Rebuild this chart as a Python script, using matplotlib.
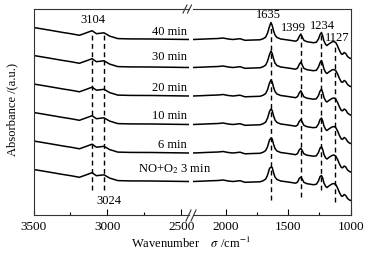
import numpy as np
import matplotlib
matplotlib.use("Agg")
import matplotlib.pyplot as plt
from matplotlib.lines import Line2D
from matplotlib.ticker import MultipleLocator

plt.rcParams['font.family'] = 'serif'
plt.rcParams['font.serif'] = ['Liberation Serif', 'DejaVu Serif']
plt.rcParams['mathtext.fontset'] = 'stix'

# Data (absorbance in arbitrary units)
labels = ['40 min', '30 min', '20 min', '10 min', '6 min', 'NO+O$_2$ 3 min']
offsets = [175.5, 147.5, 119, 90.5, 62, 33.5]

# left segment 3500-2450 cm-1
wn_left = [3500, 3450, 3390, 3300, 3240, 3190, 3150, 3104, 3075, 3045,
           3024, 2985, 2930, 2850, 2700, 2449]
abs_left = [12.0, 10.8, 9.3, 7.0, 5.6, 4.2, 6.3, 8.8, 5.8, 6.3,
            6.7, 3.4, 0.9, 0.6, 0.5, 0.0]

# right segment 2260-1000 cm-1
wn_right = [2262, 2200, 2126, 2060, 2022, 1980, 1942, 1900, 1886, 1846,
            1780, 1726, 1700, 1680, 1665, 1650, 1638, 1628, 1618, 1606,
            1590, 1560, 1530, 1486, 1440, 1425, 1412, 1399, 1388, 1375,
            1350, 1300, 1275, 1258, 1245, 1234, 1224, 1214, 1200, 1190,
            1175, 1150, 1135, 1120, 1105, 1090, 1075, 1065, 1052, 1040,
            1025, 1010, 1000]
abs_right = [0.0, 0.3, 0.7, 1.0, 1.5, 0.5, 0.0, 0.6, 0.8, -0.8,
             -0.5, -0.3, 0.8, 2.5, 6.5, 13.0, 16.0, 14.0, 9.0, 4.5,
             2.0, 0.5, 0.0, -0.8, -1.7, -0.5, 3.0, 5.0, 2.5, -0.8,
             -2.2, -3.2, -2.8, 0.5, 5.0, 6.5, 3.5, -1.5, -5.0, -6.0,
             -4.5, -2.5, -2.0, -3.0, -6.5, -11.0, -14.5, -14.8, -13.0, -14.0,
             -17.0, -18.5, -19.0]
# peak heights per spectrum (40 min ... 3 min)
peak_1635 = [17.0, 16.5, 16.0, 15.5, 15.0, 14.5]
peak_1399 = [5.5, 5.5, 5.2, 5.0, 4.7, 4.4]
peak_1234 = [7.0, 7.0, 6.8, 6.5, 6.2, 6.0]

W, H = 374, 254
fig = plt.figure(figsize=(W / 100, H / 100), dpi=100)
ax1 = fig.add_axes([33.5 / W, 39 / H, (189 - 33.5) / W, 206 / H])
ax2 = fig.add_axes([193 / W, 39 / H, (350.7 - 193) / W, 206 / H])
ax1.patch.set_visible(False)
ax2.patch.set_visible(False)

i1635 = wn_right.index(1638)
i1399 = wn_right.index(1399)
i1234 = wn_right.index(1234)
for k, off in enumerate(offsets):
    yr = list(abs_right)
    yr[i1635] = peak_1635[k]
    yr[i1399] = peak_1399[k]
    yr[i1234] = peak_1234[k]
    ax1.plot(wn_left, np.array(abs_left) + off, color='black', lw=1.1)
    ax2.plot(wn_right, np.array(yr) + off, color='black', lw=1.1)

ax1.set_xlim(3500, 2449)
ax2.set_xlim(2262, 1000)
for ax in (ax1, ax2):
    ax.set_ylim(0, 206)
    ax.set_yticks([])
    ax.tick_params(axis='x', direction='in', length=4, width=0.8,
                   labelsize=9.5, pad=4)
    ax.tick_params(axis='x', which='minor', direction='in', length=2.5,
                   width=0.8)
    for s in ax.spines.values():
        s.set_linewidth(0.8)
        s.set_color('#333333')
ax1.spines['right'].set_visible(False)
ax2.spines['left'].set_visible(False)
ax1.xaxis.set_major_locator(MultipleLocator(500))
ax1.xaxis.set_minor_locator(MultipleLocator(250))
ax2.set_xticks([2000, 1500, 1000])
ax2.set_xticks([1750, 1250], minor=True)

# dashed marker lines
dash = dict(color='black', lw=1.0, linestyle=(0, (3.5, 2.5)))
ax1.vlines(3104, 25, 183, **dash)
ax1.vlines(3024, 25, 182, **dash)
ax2.vlines(1635, 15, 190, **dash)
ax2.vlines(1399, 18, 180, **dash)
ax2.vlines(1234, 25, 182, **dash)
ax2.vlines(1127, 13, 170, **dash)

fs = 9
ax1.text(3101, 195, '3104', ha='center', va='center', fontsize=fs)
ax1.text(2990, 13.5, '3024', ha='center', va='center', fontsize=fs)
ax2.text(1655, 200, '1635', ha='center', va='center', fontsize=fs)
ax2.text(1462, 187, '1399', ha='center', va='center', fontsize=fs)
ax2.text(1230, 189, '1234', ha='center', va='center', fontsize=fs)
ax2.text(1106, 177, '1127', ha='center', va='center', fontsize=fs)

label_y = [183.3, 158, 127, 99, 70]
for lab, yy in zip(labels[:5], label_y):
    ax1.text(2463, yy, lab, ha='right', va='center', fontsize=fs,
             clip_on=False)
ax1.text(2794, 45.7, labels[5], ha='left', va='center', fontsize=fs,
         clip_on=False, zorder=5)

# axis break marks
def fy(y):
    return (H - y) / H

for x0 in (183, 187.5):
    fig.add_artist(Line2D([x0 / W, (x0 + 4) / W], [fy(13), fy(5)],
                          color='#333333', lw=0.8))
for x0 in (186, 191):
    fig.add_artist(Line2D([x0 / W, (x0 + 5) / W], [fy(221), fy(210)],
                          color='#333333', lw=0.8))

fig.text(12 / W, fy(110), 'Absorbance /(a.u.)', rotation=90,
         ha='center', va='center', fontsize=fs)
fig.text(191 / W, fy(243), 'Wavenumber    $\\sigma$ /cm$^{-1}$',
         ha='center', va='center', fontsize=fs)

fig.savefig('out.png', dpi=100)
